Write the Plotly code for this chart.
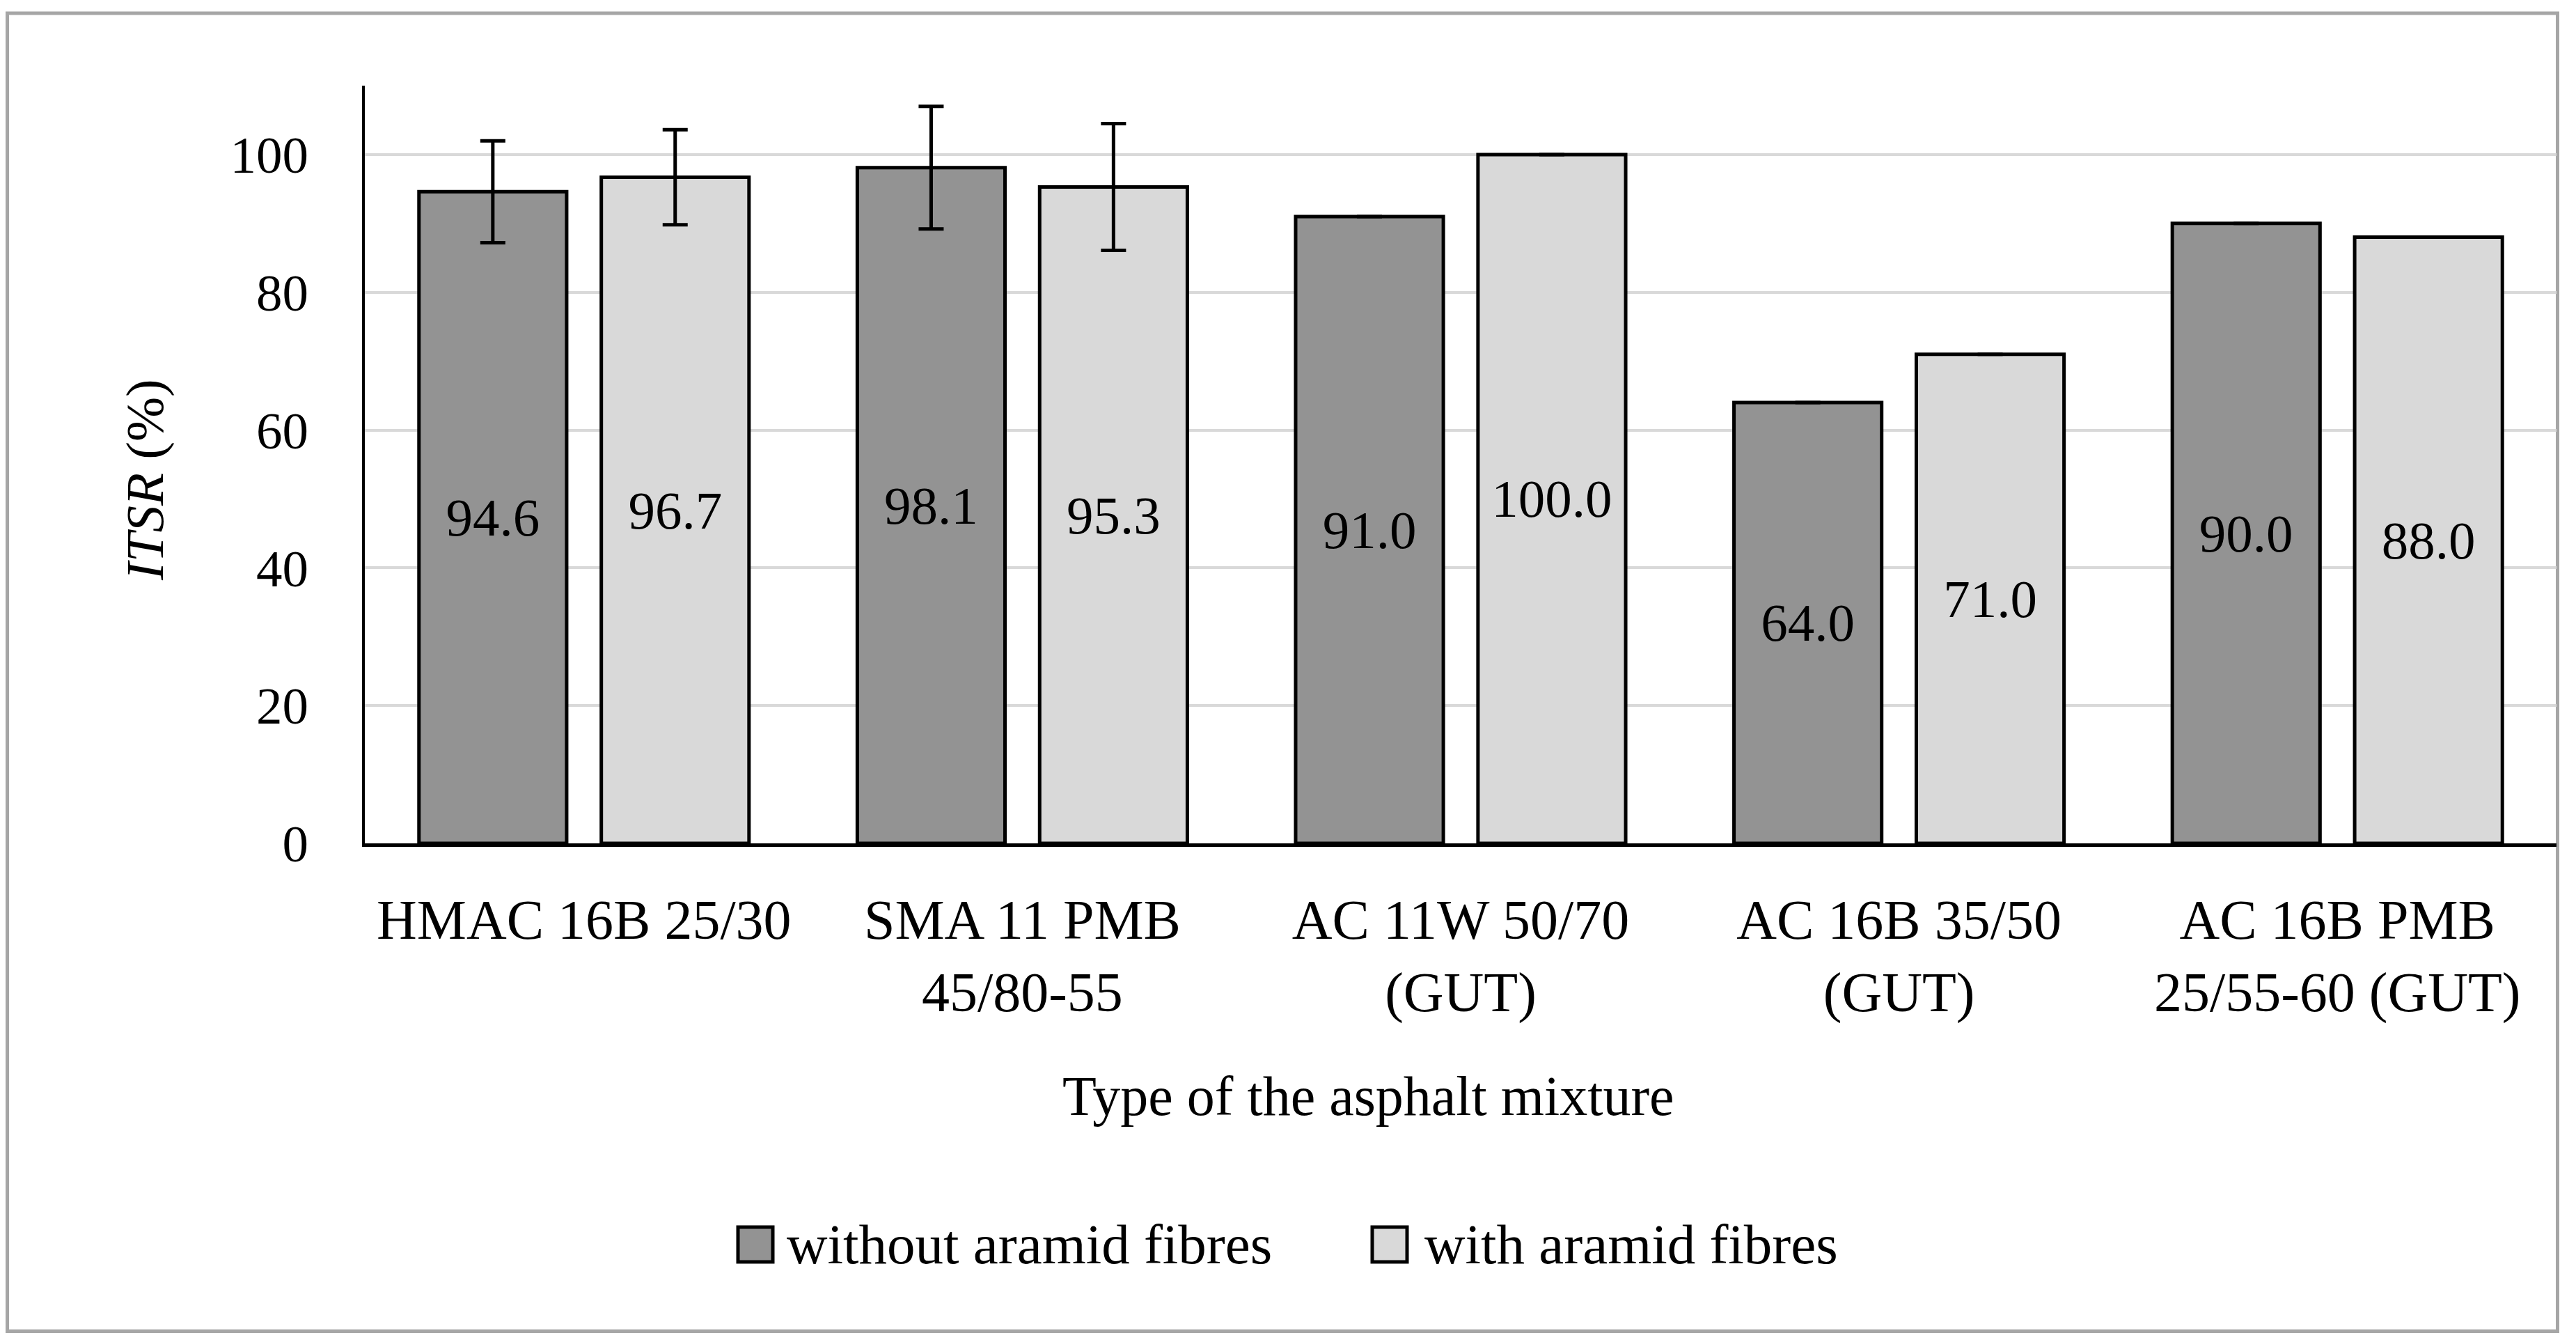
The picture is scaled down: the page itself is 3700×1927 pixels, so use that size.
import plotly.graph_objects as go

# ---- data ----
categories = ["HMAC 16B 25/30", "SMA 11 PMB 45/80-55", "AC 11W 50/70 (GUT)",
              "AC 16B 35/50 (GUT)", "AC 16B PMB 25/55-60 (GUT)"]
tick_labels = ["HMAC 16B 25/30", "SMA 11 PMB<br>45/80-55", "AC 11W 50/70<br>(GUT)",
               "AC 16B 35/50<br>(GUT)", "AC 16B PMB<br>25/55-60 (GUT)"]
series_names = ["without aramid fibres", "with aramid fibres"]
without_fibres = [94.6, 98.1, 91.0, 64.0, 90.0]
with_fibres = [96.7, 95.3, 100.0, 71.0, 88.0]
err_without = [7.4, 8.9, None, None, None]
err_with = [6.9, 9.2, None, None, None]
y_ticks = [0, 20, 40, 60, 80, 100]

# ---- layout geometry (figure pixels; page has an 8px body margin) ----
W, H = 3684, 1911
L, R, T, B = 516, 3664, 115, 1203
FONT = "Liberation Serif"

def px_x(px):
    return (px - L) / (R - L)

def px_y(py):
    return (B - py) / (B - T)

colors = ["#939393", "#d9d9d9"]

fig = go.Figure()
for name, vals, errs, col in zip(series_names, [without_fibres, with_fibres],
                                 [err_without, err_with], colors):
    fig.add_trace(go.Bar(
        x=categories, y=vals, name=name,
        marker=dict(color=col, line=dict(color="black", width=5)),
        text=[f"{v:.1f}" for v in vals],
        textposition="inside", insidetextanchor="middle",
        constraintext="none", textangle=0,
        textfont=dict(family=FONT, size=77, color="black"),
        error_y=dict(type="data", array=errs, visible=True,
                     color="black", thickness=5, width=18),
        showlegend=False,
    ))

shapes = [
    # outer chart border
    dict(type="rect", xref="paper", yref="paper",
         x0=px_x(2.5), x1=px_x(3665.5), y0=px_y(1903.5), y1=px_y(11),
         line=dict(color="#a6a6a6", width=5), fillcolor="rgba(0,0,0,0)", layer="below"),
]
annotations = [
    dict(text="Type of the asphalt mixture", xref="paper", yref="paper",
         x=px_x(1957), y=px_y(1566), showarrow=False,
         font=dict(family=FONT, size=80, color="black"), xanchor="center", yanchor="middle"),
    dict(text="<i>ITSR</i> (%)", xref="paper", yref="paper",
         x=px_x(200), y=px_y(681), showarrow=False, textangle=-90,
         font=dict(family=FONT, size=77, color="black"), xanchor="center", yanchor="middle"),
]
# manual legend
leg_items = [(1052, 1120), (1963, 2036)]
leg_y = 1779
for (sx, tx), name, col in zip(leg_items, series_names, colors):
    shapes.append(dict(type="rect", xref="paper", yref="paper",
                       x0=px_x(sx), x1=px_x(sx + 50), y0=px_y(leg_y + 25), y1=px_y(leg_y - 25),
                       line=dict(color="black", width=5), fillcolor=col))
    annotations.append(dict(text=name, xref="paper", yref="paper",
                            x=px_x(tx), y=px_y(leg_y), showarrow=False,
                            xanchor="left", yanchor="middle",
                            font=dict(family=FONT, size=81, color="black")))

fig.update_layout(
    width=W, height=H,
    margin=dict(l=L, r=W - R, t=T, b=H - B, pad=0),
    paper_bgcolor="white", plot_bgcolor="white",
    barmode="group", bargap=0.168, bargroupgap=0.19,
    font=dict(family=FONT, size=76, color="black"),
    shapes=shapes, annotations=annotations,
    showlegend=False,
)
fig.update_xaxes(
    tickmode="array", tickvals=categories, ticktext=tick_labels,
    showline=True, linecolor="black", linewidth=5, ticks="",
    showgrid=False, ticklabelstandoff=36,
    tickfont=dict(family=FONT, size=80, color="black"),
)
fig.update_yaxes(
    range=[0, 110], tickvals=y_ticks, showline=True, linecolor="black", linewidth=4,
    showgrid=True, gridcolor="#d9d9d9", gridwidth=4, zeroline=False, ticks="",
    ticklabelstandoff=62,
    tickfont=dict(family=FONT, size=75, color="black"),
)

fig.write_html("out.html")
